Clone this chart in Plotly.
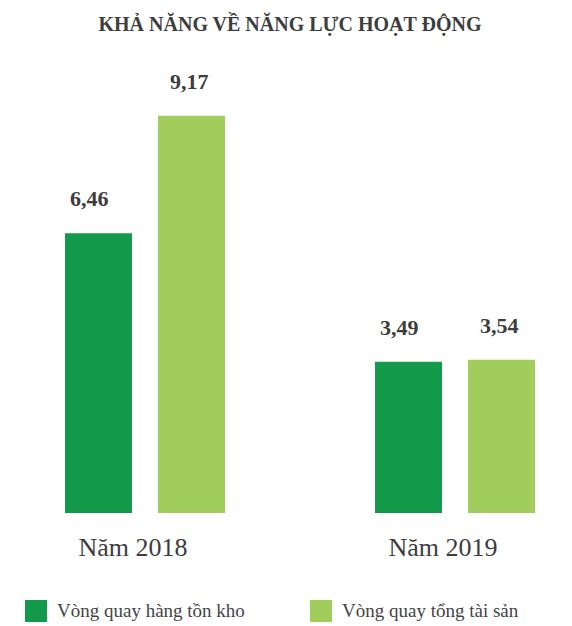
import plotly.graph_objects as go

categories = ["Năm 2018", "Năm 2019"]
series_names = ["Vòng quay hàng tồn kho", "Vòng quay tổng tài sản"]
inventory_turnover = [6.46, 3.49]
asset_turnover = [9.17, 3.54]
colors = ["#12994A", "#A1CD5C"]

FONT = "Liberation Serif"
TXT = "#3d3d3d"
W, H = 572, 626
OFF = 8  # page body margin
T, B = 60 - OFF, H - (513 - OFF)
PH = H - T - B
bargap = 0.40
slot = (1 - bargap) / 2

fig = go.Figure()
for i, (name, vals) in enumerate([(series_names[0], inventory_turnover), (series_names[1], asset_turnover)]):
    fig.add_trace(go.Bar(x=categories, y=vals, name=name, marker_color=colors[i],
                         marker_line_width=0, showlegend=False))
    off = (i - 0.5) * slot
    for j, v in enumerate(vals):
        fig.add_annotation(x=j + off, y=v, xref="x", yref="y",
                           text="<b>" + f"{v:.2f}".replace(".", ",") + "</b>",
                           showarrow=False, yanchor="bottom", yshift=20,
                           xshift=-9 if i == 0 else -2,
                           font=dict(family=FONT, size=22, color=TXT))

def py(y_px):
    return (H - B - (y_px - OFF)) / PH

leg_x = [25, 310]
for i, name in enumerate(series_names):
    fig.add_shape(type="rect", xref="paper", yref="paper",
                  x0=(leg_x[i] - OFF) / W, x1=(leg_x[i] + 22 - OFF) / W,
                  y0=py(622), y1=py(600),
                  fillcolor=colors[i], line_width=0)
    fig.add_annotation(xref="paper", yref="paper", x=(leg_x[i] + 30 - OFF) / W,
                       y=py(610), xanchor="left", yanchor="middle",
                       text=name, showarrow=False, font=dict(family=FONT, size=19, color="#444444"))

cx0 = 145 - OFF
unit = 310
fig.update_layout(
    width=W, height=H,
    margin=dict(l=0, r=0, t=T, b=B),
    plot_bgcolor="white", paper_bgcolor="white",
    barmode="group", bargap=bargap, bargroupgap=0.28,
    title=dict(text="<b>KHẢ NĂNG VỀ NĂNG LỰC HOẠT ĐỘNG</b>", x=(290 - OFF) / W, xanchor="center",
               y=1 - 16 / H, yanchor="middle", yref="container",
               font=dict(family=FONT, size=20, color=TXT)),
    xaxis=dict(range=[-cx0 / unit, (W - cx0) / unit], showline=False, showgrid=False, zeroline=False,
               ticks="", tickfont=dict(family=FONT, size=26, color=TXT),
               ticklabelstandoff=16, ticklabelshift=-12),
    yaxis=dict(range=[0, 10.46], visible=False),
    separators=",.",
)

fig.write_html("out.html")
